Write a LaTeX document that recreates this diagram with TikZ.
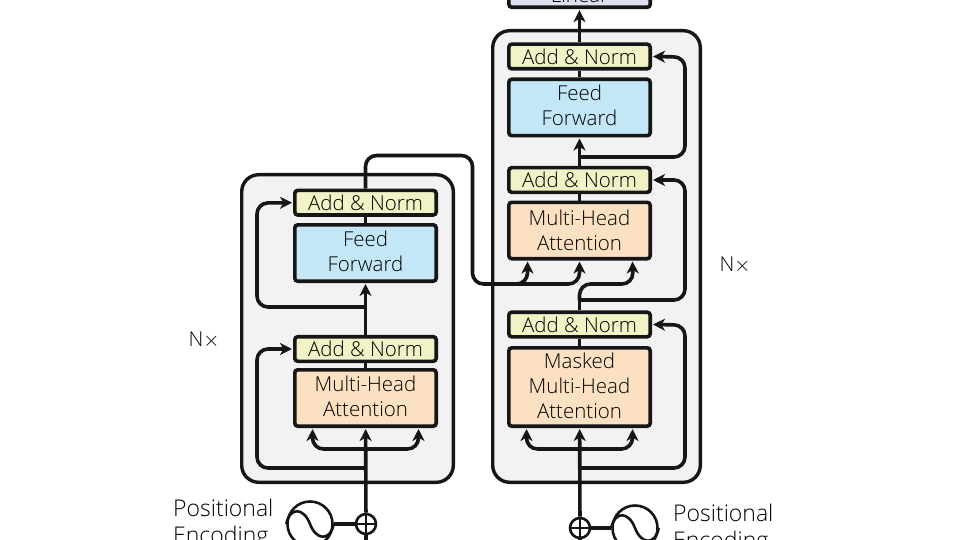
\documentclass[tikz,border=0pt]{standalone}
\usepackage{fontspec}
\setmainfont{Open Sans}[UprightFont=* Light]
\usetikzlibrary{arrows.meta}
\definecolor{inkline}{HTML}{161616}
\definecolor{blockgray}{HTML}{F2F2F2}
\definecolor{normfill}{HTML}{F1F3C7}
\definecolor{feedfill}{HTML}{C3E7F7}
\definecolor{attnfill}{HTML}{FCE0C2}
\definecolor{linearfill}{HTML}{DDE0F0}
\newcommand{\liftby}[1]{\rule[-#1pt]{0pt}{0pt}}
\tikzset{
  boxbase/.style={draw=inkline,line width=3.6pt,rounded corners=3pt,minimum width=141.4pt,align=center,inner sep=0pt,text=black},
  normbox/.style={boxbase,fill=normfill,minimum height=24.6pt},
  feedbox/.style={boxbase,fill=feedfill,minimum height=56.4pt},
  attnbox/.style={boxbase,fill=attnfill,minimum height=56.4pt},
  linearbox/.style={boxbase,fill=linearfill,minimum height=24.6pt},
  blockbox/.style={draw=inkline,fill=blockgray,line width=3.4pt,rounded corners=17pt},
  link/.style={draw=inkline,line width=3.6pt,rounded corners=11pt},
  arrowlink/.style={link,-{Stealth[length=12pt,width=12pt,inset=3.5pt]},shorten >=1pt},
  pluscircle/.style={circle,draw=inkline,line width=2.6pt,minimum size=20pt,inner sep=0pt,fill=white},
  sinecircle/.style={circle,draw=inkline,line width=2.6pt,minimum size=45pt,inner sep=0pt,fill=white},
  sideline/.style={text=black,align=left,inner sep=0pt,font=\fontsize{23}{27}\selectfont}
}
\begin{document}
\begin{tikzpicture}[x=1pt,y=-1pt,font=\fontsize{20.5}{25}\selectfont]
  \clip (0,0) rectangle (960,540);
  \fill [white] (0,0) rectangle (960,540);
  \draw [blockbox] (241.7,174.7) rectangle (453.3,482.3);
  \draw [blockbox] (492.7,30.7) rectangle (700.3,482.3);

  % encoder
  \node [normbox] (encnormb) at (365.5,202.7) {Add \& Norm};
  \node [feedbox] (encfeed) at (365.5,253) {Feed\\Forward\liftby{4}};
  \node [normbox] (encnorma) at (365.5,349) {Add \& Norm};
  \node [attnbox] (encattn) at (365.5,398) {Multi-Head\\Attention\liftby{3}};
  \node [pluscircle] (encplus) at (366,524) {};
  \node [sinecircle] (encsine) at (310,524) {};
  \node [sideline,anchor=west] (enctext) at (173,524.5) {Positional\\Encoding};
  \node [text=black] (encn) at (204,340) {N$\times$};

  % decoder
  \node [linearbox] (linear) at (579.5,-5) {Linear};
  \node [normbox] (decnormc) at (579.5,56.5) {Add \& Norm};
  \node [feedbox] (decfeed) at (579.5,107.5) {Feed\\Forward\liftby{4}};
  \node [normbox] (decnormb) at (579.5,180) {Add \& Norm};
  \node [attnbox] (decattn) at (579.5,230.5) {Multi-Head\\Attention};
  \node [normbox] (decnorma) at (579.5,324.5) {Add \& Norm};
  \node [attnbox,minimum height=78.4pt] (decmask) at (579.5,387) {Masked\\Multi-Head\\Attention\liftby{2}};
  \node [pluscircle] (decplus) at (580,528) {};
  \node [sinecircle] (decsine) at (635,528) {};
  \node [sideline,anchor=west] (dectext) at (673,529) {Positional\\Encoding};
  \node [text=black] (decn) at (735,265) {N$\times$};

  % the plus and sine glyphs
  \foreach \c in {encplus,decplus}
  {
    \draw [draw=inkline,line width=1.8pt] (\c.north) -- (\c.south);
    \draw [draw=inkline,line width=1.8pt] (\c.west) -- (\c.east);
  }
  \foreach \c in {encsine,decsine}
    \draw [draw=inkline,line width=2.6pt] (\c.west) .. controls ([shift={(4,-18)}]\c.west) and ([shift={(-6,-16)}]\c.center) .. (\c.center) .. controls ([shift={(6,16)}]\c.center) and ([shift={(-4,18)}]\c.east) .. (\c.east);
  \draw [link] (encsine) -- (encplus);
  \draw [link] (decsine) -- (decplus);

  % named turning points
  \coordinate (encforka) at (365.5,468);
  \coordinate (encforkb) at (365.5,449);
  \coordinate (encforkc) at (365.5,307);
  \coordinate (encout) at (472.5,155.5);
  \coordinate (decforka) at (579.5,468);
  \coordinate (decforkb) at (579.5,449);
  \coordinate (decforkc) at (579.5,300);
  \coordinate (decforkd) at (579.5,157);
  \coordinate (crossa) at (500,284);
  \coordinate (crossb) at (510,284);
  \coordinate (encbottom) at (366,545);
  \coordinate (decbottom) at (580,545);

  % encoder links
  \draw [link] (encbottom) -- (encplus);
  \draw [arrowlink] (encplus) -- (encattn);
  \draw [arrowlink] (encforkb) -| ([xshift=-53pt]encattn.south);
  \draw [arrowlink] (encforkb) -| ([xshift=53pt]encattn.south);
  \draw [arrowlink] (encforka) -| (257,349) -- (encnorma.west);
  \draw [link] (encattn) -- (encnorma);
  \draw [arrowlink] (encnorma) -- (encfeed);
  \draw [arrowlink] (encforkc) -| (257,203) -- (encnormb.west);
  \draw [link] (encfeed) -- (encnormb);
  \draw [link] (encnormb.north) |- (encout) |- (crossa);
  \draw [arrowlink] (crossa) -| ([xshift=-52pt]decattn.south);
  \draw [arrowlink] (crossb) -| (decattn.south);

  % decoder links
  \draw [link] (decbottom) -- (decplus);
  \draw [arrowlink] (decplus) -- (decmask);
  \draw [arrowlink] (decforkb) -| ([xshift=-53pt]decmask.south);
  \draw [arrowlink] (decforkb) -| ([xshift=53pt]decmask.south);
  \draw [arrowlink] (decforka) -| (685,325) -- (decnorma.east);
  \draw [link] (decmask) -- (decnorma);
  \draw [link] (decnorma) -- (decforkc);
  \draw [arrowlink] (decforkc) -| (685,180) -- (decnormb.east);
  \draw [arrowlink] (decforkc) |- (633,284) -- ([xshift=53pt]decattn.south);
  \draw [link] (decattn) -- (decnormb);
  \draw [arrowlink] (decnormb) -- (decfeed);
  \draw [arrowlink] (decforkd) -| (685,57) -- (decnormc.east);
  \draw [link] (decfeed) -- (decnormc);
  \draw [arrowlink] (decnormc) -- (linear);
\end{tikzpicture}
\end{document}
